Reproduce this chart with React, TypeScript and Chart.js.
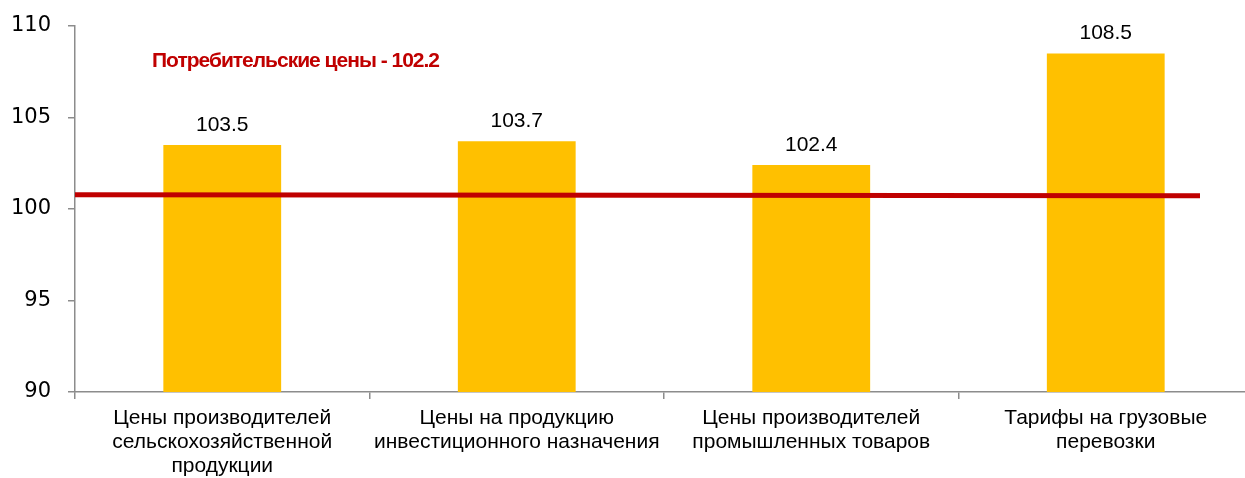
import React, { useEffect, useRef } from "react";
import { Chart, registerables } from "chart.js";

Chart.register(...registerables);

const categories: string[][] = [
  ["Цены производителей", "сельскохозяйственной", "продукции"],
  ["Цены на продукцию", "инвестиционного назначения"],
  ["Цены производителей", "промышленных товаров"],
  ["Тарифы на грузовые", "перевозки"],
];
const values = [103.5, 103.7, 102.4, 108.5];
const cpiLine = [
  { x: -0.5, y: 100.78 },
  { x: 3.32, y: 100.73 },
];
const cpiLabel = "Потребительские цены - 102.2";
const yTicks = { min: 90, max: 110, step: 5 };

const BAR = "#FFC000";
const RED = "#C00000";
const AXIS = "#8C8C8C";

export default function App() {
  const ref = useRef<HTMLCanvasElement | null>(null);

  useEffect(() => {
    if (!ref.current) return;
    const labelPlugin = {
      id: "labels",
      afterDatasetsDraw(chart: any) {
        const ctx = chart.ctx;
        const meta = chart.getDatasetMeta(1);
        ctx.save();
        ctx.fillStyle = "#000";
        ctx.font = "21px 'Liberation Sans', Arial, sans-serif";
        ctx.textAlign = "center";
        ctx.textBaseline = "middle";
        meta.data.forEach((bar: any, i: number) => {
          ctx.fillText(values[i].toFixed(1), bar.x, bar.y - 20);
        });
        const xs = chart.scales.x;
        const ys = chart.scales.y;
        ctx.fillStyle = RED;
        ctx.font = "bold 21px 'Liberation Sans', Arial, sans-serif";
        ctx.textAlign = "left";
        try {
          (ctx as any).letterSpacing = "-1px";
        } catch (e) {}
        ctx.fillText(cpiLabel, xs.left + 77, ys.getPixelForValue(108.1));
        ctx.restore();
      },
    };

    const chart = new Chart(ref.current, {
      type: "bar",
      data: {
        labels: categories as any,
        datasets: [
          {
            type: "line",
            data: cpiLine as any,
            xAxisID: "x2",
            borderColor: RED,
            borderWidth: 5,
            pointRadius: 0,
            borderCapStyle: "butt",
            order: 0,
          } as any,
          {
            type: "bar",
            data: values,
            backgroundColor: BAR,
            barPercentage: 0.4,
            categoryPercentage: 1,
            grouped: false,
            order: 1,
          },
        ],
      },
      options: {
        animation: false,
        responsive: false,
        layout: { padding: { top: 26, right: 0, left: 0, bottom: 0 } },
        plugins: { legend: { display: false }, tooltip: { enabled: false } },
        scales: {
          x: {
            type: "category",
            offset: true,
            border: { color: AXIS, width: 1.5 },
            grid: {
              offset: true,
              drawOnChartArea: false,
              drawTicks: true,
              tickLength: 7,
              color: AXIS,
              lineWidth: 1.5,
            },
            ticks: {
              color: "#000",
              font: { family: "'Liberation Sans', Arial, sans-serif", size: 21, lineHeight: "24px" },
              padding: 7,
              maxRotation: 0,
              autoSkip: false,
            },
            afterFit(scale: any) {
              scale.height = 86;
            },
          },
          x2: {
            type: "linear",
            display: false,
            offset: false,
            min: -0.5,
            max: 3.5,
          },
          y: {
            min: yTicks.min,
            max: yTicks.max,
            border: { color: AXIS, width: 1.5 },
            grid: {
              drawOnChartArea: false,
              drawTicks: true,
              tickLength: 7,
              color: AXIS,
              lineWidth: 1.5,
            },
            ticks: {
              stepSize: yTicks.step,
              color: "#000",
              font: { family: "'DejaVu Sans', sans-serif", size: 21, lineHeight: "18px" },
              padding: 17,
            },
            afterFit(scale: any) {
              scale.width = 75;
            },
          },
        },
      },
      plugins: [labelPlugin],
    } as any);
    return () => chart.destroy();
  }, []);

  return (
    <div
      style={{
        position: "fixed",
        left: 0,
        top: 0,
        width: 1245,
        height: 478,
        overflow: "hidden",
        background: "#fff",
      }}
    >
      <canvas ref={ref} width={1253} height={478} style={{ display: "block" }} />
    </div>
  );
}
